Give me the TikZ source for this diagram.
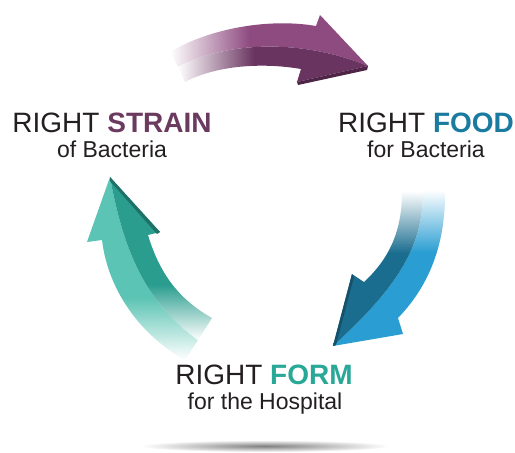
\documentclass[tikz,border=0pt]{standalone}
\usepackage{fontspec}
\setmainfont{Liberation Sans}
\usepackage{tikz}

% colours
\definecolor{inktext}{HTML}{231F20}
\definecolor{straintext}{HTML}{6B3A5F}
\definecolor{foodtext}{HTML}{1A7AA0}
\definecolor{formtext}{HTML}{29A797}
\definecolor{strainlight}{HTML}{8E4B80}
\definecolor{straindark}{HTML}{6A3460}
\definecolor{strainrim}{HTML}{4E2447}
\definecolor{foodlight}{HTML}{2A9DD2}
\definecolor{fooddark}{HTML}{1B6D8F}
\definecolor{foodrim}{HTML}{14526C}
\definecolor{formlight}{HTML}{5CC4B4}
\definecolor{formdark}{HTML}{2A9D8E}
\definecolor{formrim}{HTML}{1E7166}

% fading shadings, coloured by "tone"
\colorlet{tone}{black}
\pgfdeclarehorizontalshading[tone]{fadeleft}{100bp}{color(0bp)=(white); color(25bp)=(white); color(45bp)=(tone); color(100bp)=(tone)}
\pgfdeclareverticalshading[tone]{fadetop}{100bp}{color(0bp)=(tone); color(55bp)=(tone); color(75bp)=(white); color(100bp)=(white)}
\pgfdeclareverticalshading[tone]{fadebottom}{100bp}{color(0bp)=(white); color(25bp)=(white); color(42bp)=(tone); color(100bp)=(tone)}

\tikzset{tone/.code={\colorlet{tone}{#1}}}
\tikzstyle{title}=[inner sep=0pt,anchor=base,text=inktext,font=\fontsize{28}{30}\selectfont]
\tikzstyle{subtitle}=[inner sep=0pt,anchor=base,text=inktext,font=\fontsize{23}{26}\selectfont]

\begin{document}
\begin{tikzpicture}[x=1pt,y=-1pt]
  \useasboundingbox (0,0) rectangle (515,453);

  % purple arrow (top)
  \shade[shading=fadeleft,tone=strainlight] (170,52) .. controls (210,28) and (270,18) .. (316,26)
    -- (320,15) -- (368,66) .. controls (300,38) and (225,42) .. (178,67) -- cycle;
  \shade[shading=fadeleft,tone=straindark] (178,67) .. controls (225,42) and (300,38) .. (368,66)
    -- (297,82) -- (301,69) .. controls (260,62) and (215,66) .. (185,82) -- cycle;
  \fill[strainrim] (297,82) -- (368,66) -- (367,70) -- (298,85) -- cycle;

  % blue arrow (right)
  \shade[shading=fadetop,tone=foodlight] (423,191) -- (445,190) .. controls (446,250) and (425,290) .. (398,318)
    -- (403,334) -- (333,346) .. controls (400,285) and (423,245) .. (423,191) -- cycle;
  \shade[shading=fadetop,tone=fooddark] (402,192) -- (423,191) .. controls (423,245) and (400,285) .. (333,346)
    -- (352,274) -- (364,282) .. controls (390,258) and (402,230) .. (402,192) -- cycle;
  \fill[foodrim] (333,346) -- (352,274) -- (354,277) -- (336,345) -- cycle;

  % teal arrow (left)
  \shade[shading=fadebottom,tone=formlight] (110,177) -- (87,242) -- (102,240) .. controls (108,290) and (140,335) .. (185,360)
    -- (198,340) .. controls (150,305) and (125,260) .. (110,177) -- cycle;
  \shade[shading=fadebottom,tone=formdark] (110,177) .. controls (125,260) and (150,305) .. (198,340)
    -- (212,318) .. controls (180,300) and (160,275) .. (148,235) -- (160,232) -- cycle;
  \fill[formrim] (110,177) -- (160,232) -- (157,234) -- (110,181) -- cycle;

  % shadow
  \shade[inner color=black!50,outer color=white] (265,446) ellipse [x radius=125,y radius=6];

  % labels
  \node[title] (strain) at (112,132) {RIGHT \textbf{\color{straintext}STRAIN}};
  \node[subtitle] (strainsub) at (112,157) {of Bacteria};
  \node[title] (food) at (426,132) {RIGHT \textbf{\color{foodtext}FOOD}};
  \node[subtitle] (foodsub) at (426,157) {for Bacteria};
  \node[title] (form) at (264,384) {RIGHT \textbf{\color{formtext}FORM}};
  \node[subtitle] (formsub) at (265,409) {for the Hospital};
\end{tikzpicture}
\end{document}
